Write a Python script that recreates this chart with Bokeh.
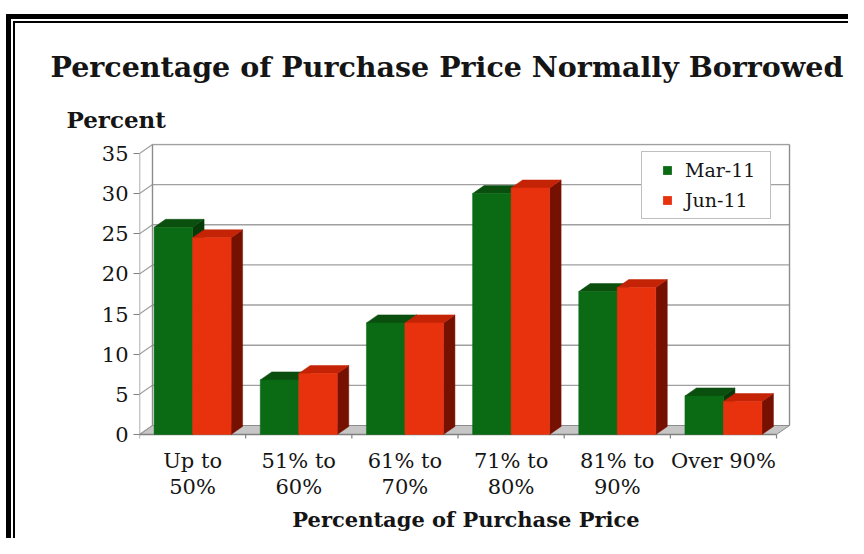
from bokeh.plotting import figure
from bokeh.models import Range1d, FixedTicker, Legend, LegendItem, Title
from bokeh.embed import file_html
from bokeh.resources import INLINE

# ---------------- data ----------------
categories = ["Up to\n50%", "51% to\n60%", "61% to\n70%", "71% to\n80%", "81% to\n90%", "Over 90%"]
series_names = ["Mar-11", "Jun-11"]
mar11 = [25.8, 6.8, 13.9, 30.0, 17.8, 4.8]
jun11 = [24.5, 7.6, 13.9, 30.7, 18.3, 4.1]
y_ticks = [0, 5, 10, 15, 20, 25, 30, 35]

title_text = "Percentage of Purchase Price Normally Borrowed"
y_title = "Percent"
x_title = "Percentage of Purchase Price"

# ---------------- styles / geometry ----------------
FONT = "DejaVu Serif"
W, H = 848, 538
FL, FR, FT, FB = 139, 792, 143, 440          # plot frame inside the canvas
PX_X = 106.17                                  # pixels per category
PX_Y = 8.03                                    # pixels per percent
n = len(categories)
x_end = (FR - FL) / PX_X
y_start = -6 / PX_Y
y_end = y_start + (FB - FT) / PX_Y

WDX, WDY = 13 / PX_X, 9 / PX_Y                 # wall depth
BDX, BDY = 11.5 / PX_X, 8 / PX_Y               # bar depth
BW = 38.5 / PX_X                               # bar width
ymax = y_ticks[-1]

GREEN = ["#0b6b14", "#0a4f0e", "#063a08"]      # front, top, side
RED = ["#e8320e", "#c42306", "#761000"]
GRID = "#a0a0a0"
TXT = "#151515"

p = figure(width=W, height=H, x_range=Range1d(0, x_end), y_range=Range1d(y_start, y_end),
           output_backend="svg", toolbar_location=None,
           min_border_left=FL, min_border_right=W - FR, min_border_top=FT, min_border_bottom=H - FB)
p.outline_line_color = None
p.grid.visible = False
p.background_fill_color = "white"
p.border_fill_alpha = 0.0
# double black frame around the whole chart (drawn as CSS background of the figure element)
p.styles = {
    "background": ("linear-gradient(#000,#000) 6px 14px / 5px 100% no-repeat, "
                   "linear-gradient(#000,#000) 6px 14px / 100% 5px no-repeat, "
                   "linear-gradient(#000,#000) 13px 21px / 2px 100% no-repeat, "
                   "linear-gradient(#000,#000) 13px 21px / 100% 2px no-repeat, #ffffff"),
}

# ---------------- walls & floor ----------------
p.patch([0, n, n + WDX, WDX], [0, 0, WDY, WDY], fill_color="#c6c6c6", line_color="#8c8c8c", line_width=1)
gx0, gx1, gy = [], [], []
for v in y_ticks[1:]:
    gx0.append(WDX); gx1.append(n + WDX); gy.append(v + WDY)
p.segment(x0=gx0, y0=gy, x1=gx1, y1=gy, line_color=GRID, line_width=1.4)
# left wall diagonals
p.segment(x0=[0] * len(y_ticks), y0=y_ticks, x1=[WDX] * len(y_ticks), y1=[v + WDY for v in y_ticks],
          line_color=GRID, line_width=1.2)
# wall edges
p.segment(x0=[0, WDX, n + WDX], y0=[0, WDY, WDY], x1=[0, WDX, n + WDX], y1=[ymax, ymax + WDY, ymax + WDY],
          line_color="#8c8c8c", line_width=1.4)
# front floor edge + category ticks
p.segment(x0=[0], y0=[0], x1=[n], y1=[0], line_color="#808080", line_width=1.4)
bx = list(range(n + 1))
p.segment(x0=bx, y0=[0] * len(bx), x1=bx, y1=[-4 / PX_Y] * len(bx), line_color="#808080", line_width=1.2)

# ---------------- 3D bars ----------------
def draw_series(vals, offset, cols):
    x0 = [i + 0.5 - BW + offset * BW for i in range(n)]
    x1 = [a + BW for a in x0]
    side_x = [[b, b + BDX, b + BDX, b] for b in x1]
    side_y = [[0, BDY, v + BDY, v] for v in vals]
    top_x = [[a, b, b + BDX, a + BDX] for a, b in zip(x0, x1)]
    top_y = [[v, v, v + BDY, v + BDY] for v in vals]
    p.patches(side_x, side_y, fill_color=cols[2], line_color=cols[2], line_width=0.5)
    p.patches(top_x, top_y, fill_color=cols[1], line_color=cols[1], line_width=0.5)
    return p.quad(left=x0, right=x1, bottom=[0] * n, top=vals, fill_color=cols[0], line_color=cols[0], line_width=0.5)

r_mar = draw_series(mar11, 0, GREEN)
r_jun = draw_series(jun11, 1, RED)

# ---------------- axes ----------------
p.yaxis.ticker = FixedTicker(ticks=y_ticks)
p.yaxis.axis_line_color = None
p.yaxis.major_tick_line_color = "#808080"
p.yaxis.major_tick_line_width = 1.2
p.yaxis.major_tick_out = 6
p.yaxis.major_tick_in = 0
p.yaxis.minor_tick_line_color = None
p.yaxis.major_label_standoff = 5
p.yaxis.major_label_text_font = FONT
p.yaxis.major_label_text_font_size = "21px"
p.yaxis.major_label_text_color = TXT

centers = [i + 0.5 for i in range(n)]
p.xaxis.ticker = FixedTicker(ticks=centers)
p.xaxis.major_label_overrides = {c: lab for c, lab in zip(centers, categories)}
p.xaxis.axis_line_color = None
p.xaxis.major_tick_line_color = None
p.xaxis.major_tick_out = 0
p.xaxis.major_tick_in = 0
p.xaxis.minor_tick_line_color = None
p.xaxis.major_label_standoff = 8
p.xaxis.major_label_text_font = FONT
p.xaxis.major_label_text_font_size = "21px"
p.xaxis.major_label_text_line_height = 1.1
p.xaxis.major_label_text_color = TXT
p.xaxis.axis_label = x_title
p.xaxis.axis_label_text_font = FONT
p.xaxis.axis_label_text_font_style = "bold"
p.xaxis.axis_label_text_font_size = "21px"
p.xaxis.axis_label_text_color = TXT
p.xaxis.axis_label_standoff = 5

# ---------------- legend ----------------
nan = float("nan")
lg_mar = p.scatter(x=[nan], y=[nan], marker="square", size=13, fill_color=GREEN[0], line_color=None)
lg_jun = p.scatter(x=[nan], y=[nan], marker="square", size=13, fill_color=RED[0], line_color=None)
legend = Legend(items=[LegendItem(label=series_names[0], renderers=[lg_mar]),
                       LegendItem(label=series_names[1], renderers=[lg_jun])],
                location=(641 - FL, FB - 219), padding=7, spacing=8, label_height=22, glyph_height=22,
                glyph_width=36, label_standoff=0, label_width=78,
                label_text_font=FONT, label_text_font_size="19px", label_text_color=TXT,
                border_line_color="#808080", border_line_width=1.5, background_fill_color="white",
                background_fill_alpha=1.0, margin=0)
p.add_layout(legend)

# ---------------- titles ----------------
p.title.text = title_text
p.title.align = "left"
p.title.offset = 50 - FL
p.title.standoff = 18
p.title.text_font = FONT
p.title.text_font_style = "bold"
p.title.text_font_size = "28.5px"
p.title.text_color = TXT
p.add_layout(Title(text=y_title, align="left", offset=66 - FL, standoff=22,
                   text_font=FONT, text_font_style="bold", text_font_size="23px", text_color=TXT), "above")

open("out.html", "w").write(file_html(p, INLINE))
